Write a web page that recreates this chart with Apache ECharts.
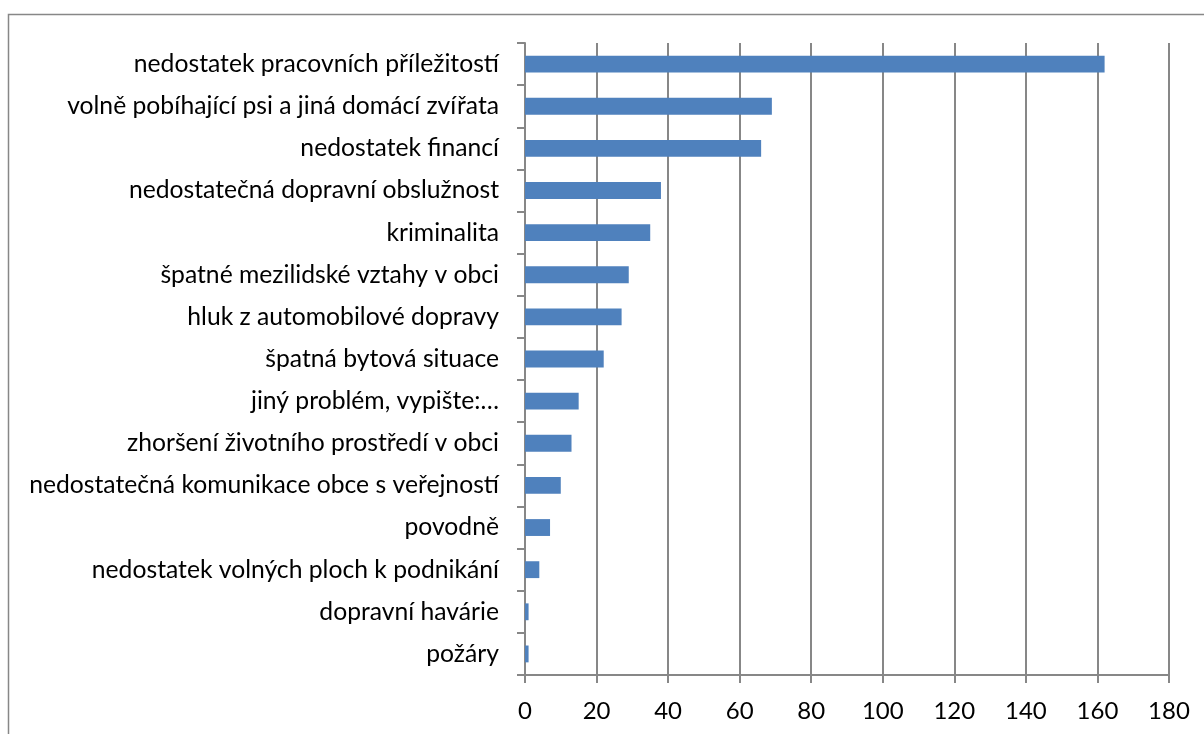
<!DOCTYPE html>
<html>
<head>
<meta charset="utf-8">
<script src="https://cdn.jsdelivr.net/npm/echarts@6/dist/echarts.min.js"></script>
<style>
  html, body { margin: 0; padding: 0; background: #fff; }
  #chart { width: 1204px; height: 734px; }
</style>
</head>
<body>
<div id="chart"></div>
<script>
// categories from top to bottom as they appear in the picture
const problems = [
  'nedostatek pracovních příležitostí',
  'volně pobíhající psi a jiná domácí zvířata',
  'nedostatek financí',
  'nedostatečná dopravní obslužnost',
  'kriminalita',
  'špatné mezilidské vztahy v obci',
  'hluk z automobilové dopravy',
  'špatná bytová situace',
  'jiný problém, vypište:…',
  'zhoršení životního prostředí v obci',
  'nedostatečná komunikace obce s veřejností',
  'povodně',
  'nedostatek volných ploch k podnikání',
  'dopravní havárie',
  'požáry'
];
const counts = [162, 69, 66, 38, 35, 29, 27, 22, 15, 13, 10, 7, 4, 1, 1];

const gray = '#878787';
const labelFont = 'Lato, "Open Sans", sans-serif';

const chart = echarts.init(document.getElementById('chart'));
chart.setOption({
  animation: false,
  graphic: [{
    type: 'rect',
    shape: { x: 8.5, y: 14.5, width: 1300, height: 800 },
    style: { fill: 'none', stroke: gray, lineWidth: 1.5 }
  }],
  grid: { left: 525, right: 35, top: 43, bottom: 59 },
  xAxis: {
    type: 'value',
    min: 0,
    max: 180,
    interval: 20,
    axisLine: { show: true, lineStyle: { color: gray, width: 2 } },
    axisTick: { show: true, length: 8, lineStyle: { color: gray, width: 2 } },
    splitLine: { lineStyle: { color: gray, width: 2 } },
    axisLabel: { color: '#000', fontSize: 24, fontFamily: labelFont, margin: 24 }
  },
  yAxis: {
    type: 'category',
    inverse: true,
    data: problems,
    axisLine: { show: true, lineStyle: { color: gray, width: 2 } },
    axisTick: { show: true, length: 8, lineStyle: { color: gray, width: 2 } },
    axisLabel: { color: '#000', fontSize: 24.7, fontFamily: labelFont, margin: 26 }
  },
  series: [{
    type: 'bar',
    data: counts,
    barCategoryGap: '60%',
    itemStyle: { color: '#4F81BD' }
  }]
});
</script>
</body>
</html>
